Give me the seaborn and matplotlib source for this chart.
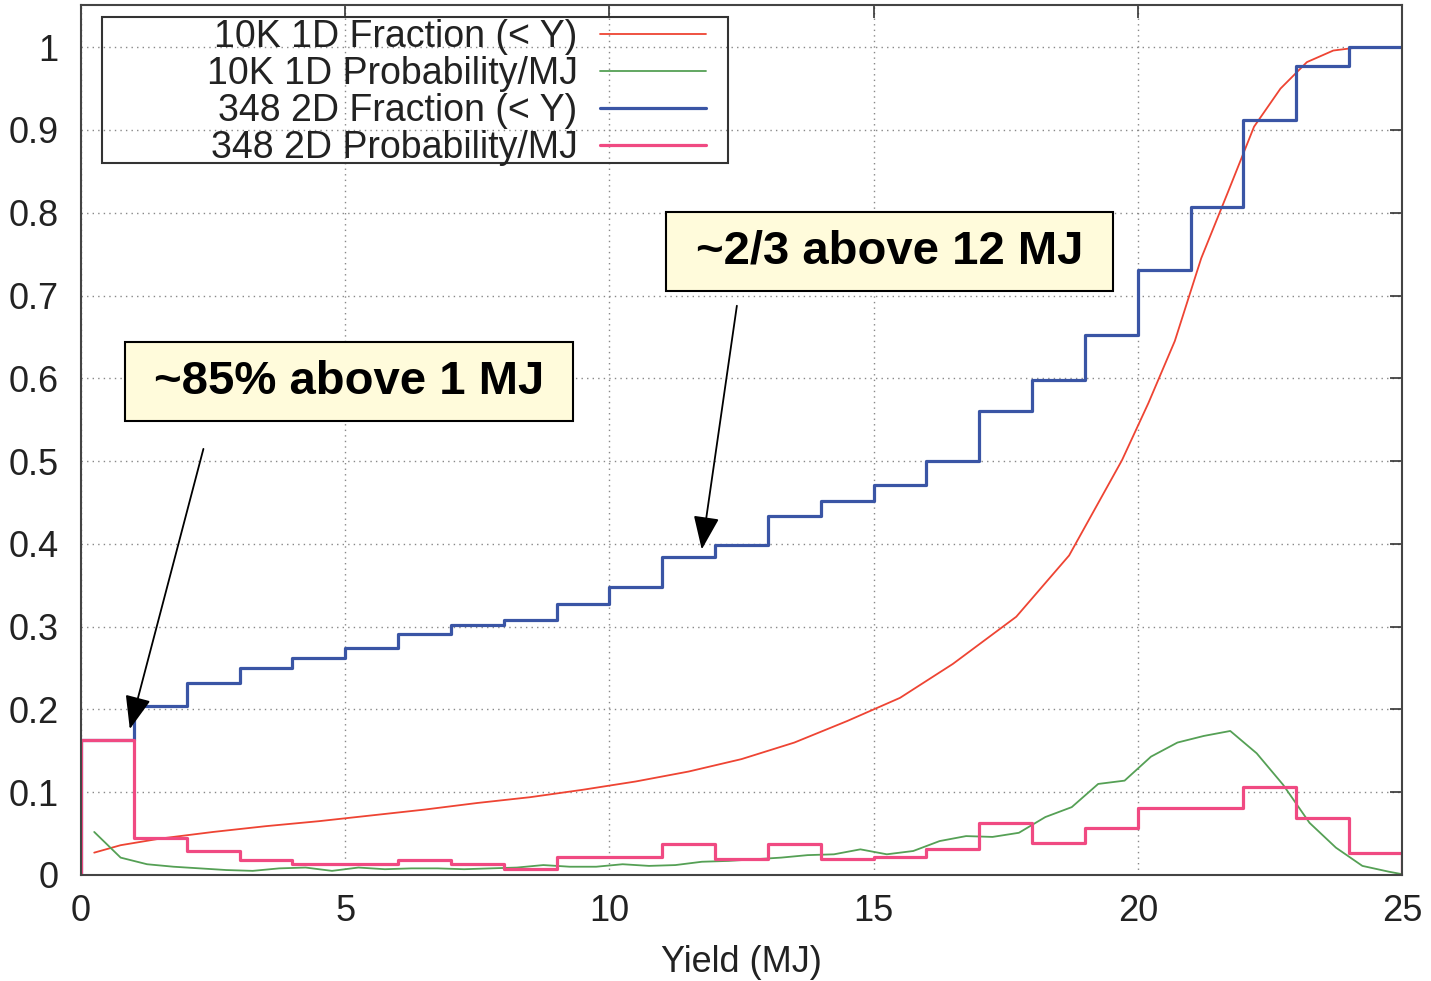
import numpy as np
import matplotlib
matplotlib.use('Agg')
import matplotlib.pyplot as plt
import seaborn as sns
from matplotlib.patches import Rectangle

# 10K 1D fraction (< Y), smooth curve
red_x = [0.25, 0.75, 1.5, 2.5, 3.5, 4.5, 5.5, 6.5, 7.5, 8.5, 9.5, 10.5, 11.5, 12.5,
         13.5, 14.5, 15.5, 16.5, 17.7, 18.7, 19.7, 20.2, 20.7, 21.2, 21.7, 22.2,
         22.7, 23.2, 23.7, 24.2, 25.0]
red_y = [0.027, 0.036, 0.044, 0.052, 0.059, 0.065, 0.072, 0.079, 0.087, 0.094, 0.103,
         0.113, 0.125, 0.140, 0.160, 0.186, 0.214, 0.255, 0.312, 0.386, 0.501, 0.570,
         0.645, 0.745, 0.824, 0.904, 0.950, 0.982, 0.996, 1.0, 1.0]

# 10K 1D probability / MJ
green_x = [0.25, 0.75, 1.25, 1.75, 2.25, 2.75, 3.25, 3.75, 4.25, 4.75, 5.25, 5.75,
           6.25, 6.75, 7.25, 7.75, 8.25, 8.75, 9.25, 9.75, 10.25, 10.75, 11.25, 11.75,
           12.25, 12.75, 13.25, 13.75, 14.25, 14.75, 15.25, 15.75, 16.25, 16.75, 17.25,
           17.75, 18.25, 18.75, 19.25, 19.75, 20.25, 20.75, 21.25, 21.75, 22.25, 22.75,
           23.25, 23.75, 24.25, 24.75, 25.0]
green_y = [0.052, 0.021, 0.013, 0.010, 0.008, 0.006, 0.005, 0.008, 0.009, 0.005, 0.009,
           0.007, 0.008, 0.008, 0.007, 0.008, 0.009, 0.012, 0.010, 0.010, 0.013, 0.011,
           0.012, 0.016, 0.017, 0.019, 0.021, 0.024, 0.025, 0.031, 0.025, 0.029, 0.041,
           0.047, 0.046, 0.051, 0.070, 0.082, 0.110, 0.114, 0.143, 0.160, 0.168, 0.174,
           0.147, 0.109, 0.063, 0.033, 0.011, 0.004, 0.001]

# 348 2D runs, 1 MJ bins from 0 to 25
bin_edges = list(range(26))
blue_frac = [0.163, 0.204, 0.232, 0.250, 0.262, 0.274, 0.291, 0.302, 0.308, 0.327,
             0.348, 0.384, 0.399, 0.434, 0.452, 0.471, 0.500, 0.560, 0.598, 0.652,
             0.731, 0.807, 0.912, 0.977, 1.0]
pink_prob = [0.163, 0.045, 0.029, 0.018, 0.013, 0.013, 0.018, 0.013, 0.007, 0.022,
             0.022, 0.037, 0.019, 0.037, 0.019, 0.022, 0.031, 0.063, 0.039, 0.057,
             0.081, 0.081, 0.106, 0.069, 0.026]

labels = ['10K 1D Fraction (< Y)', '10K 1D Probability/MJ',
          '348 2D Fraction (< Y)', '348 2D Probability/MJ']
colors = ['#ee4433', '#55a055', '#3a55a5', '#f04a82']

sns.set_theme(style='white')
plt.rcParams['font.family'] = ['Liberation Sans', 'DejaVu Sans']

W, H = 1431, 981
fig = plt.figure(figsize=(W / 100, H / 100), dpi=100)
L, R, B, T = 81, 1402, 875, 5
ax = fig.add_axes([L / W, 1 - B / H, (R - L) / W, (B - T) / H])


def px(x, y):
    # picture pixels -> axes fraction
    return (x - L) / (R - L), (B - y) / (B - T)


# step outlines, closed to zero where the original drops to the axis
blue_x = [0] + bin_edges
blue_y = [0] + blue_frac + [blue_frac[-1]]
pink_x = [0] + bin_edges + [25]
pink_y = [0] + pink_prob + [pink_prob[-1], 0]

sns.lineplot(x=red_x, y=red_y, ax=ax, color=colors[0], lw=1.3, label=labels[0],
             sort=False, estimator=None)
sns.lineplot(x=green_x, y=green_y, ax=ax, color=colors[1], lw=1.3, label=labels[1],
             sort=False, estimator=None)
sns.lineplot(x=blue_x, y=blue_y, ax=ax, color=colors[2], lw=2.3, label=labels[2],
             sort=False, estimator=None, drawstyle='steps-post')
sns.lineplot(x=pink_x, y=pink_y, ax=ax, color=colors[3], lw=2.3, label=labels[3],
             sort=False, estimator=None, drawstyle='steps-post')

ax.set_xlim(0, 25)
ax.set_ylim(0, 1.051)
ax.set_xticks(range(0, 26, 5))
ax.set_yticks(np.arange(0, 1.01, 0.1))
ax.set_yticklabels(['0'] + [f'{v:.1f}' for v in np.arange(0.1, 0.95, 0.1)] + ['1'])
ax.tick_params(direction='in', length=9, width=1.2, color='#333333', labelsize=26,
               top=True, right=True, labelcolor='#222222')
ax.tick_params(axis='x', pad=14)
ax.tick_params(axis='y', pad=16)
ax.grid(True, linestyle=(0, (1, 3)), color='#888888', lw=1.0)
for s in ax.spines.values():
    s.set_color('#444444')
    s.set_linewidth(1.5)

ax.set_xlabel('Yield (MJ)', fontsize=26, color='#222222', labelpad=11)
ax.set_ylabel('')

# legend: text right-aligned, sample lines on the right, square box
handles, _ = ax.get_legend_handles_labels()
leg = ax.legend(handles, labels, loc='upper right', bbox_to_anchor=px(706, 19),
                borderaxespad=0, frameon=False, markerfirst=False, fontsize=27,
                handlelength=2.83, handletextpad=0.59, labelspacing=0.03, borderpad=0)
for t in leg.get_texts():
    t.set_color('#222222')
x0, y0 = px(102, 163)
x1, y1 = px(728, 17)
ax.add_patch(Rectangle((x0, y0), x1 - x0, y1 - y0, transform=ax.transAxes,
                       fill=False, ec='#333333', lw=1.5, zorder=4))

# annotation boxes
notes = [('~85% above 1 MJ', (125, 342, 573, 421), (0.91, 0.173), (2.33, 0.518)),
         ('~2/3 above 12 MJ', (666, 212, 1113, 291), (11.74, 0.390), (12.42, 0.691))]
for text, (bx0, by0, bx1, by1), tip, start in notes:
    a0, b0 = px(bx0, by1)
    a1, b1 = px(bx1, by0)
    ax.add_patch(Rectangle((a0, b0), a1 - a0, b1 - b0, transform=ax.transAxes,
                           fc='#fffbdb', ec='black', lw=1.5, zorder=5))
    ax.text((a0 + a1) / 2, (b0 + b1) / 2, text, transform=ax.transAxes, ha='center',
            va='center', fontsize=34, fontweight='bold', color='black', zorder=6)
    ax.annotate('', xy=tip, xytext=start,
                arrowprops=dict(arrowstyle='-|>,head_length=0.9,head_width=0.35',
                                color='black', lw=1.3, mutation_scale=23), zorder=6)

fig.savefig('out.png', dpi=100)
